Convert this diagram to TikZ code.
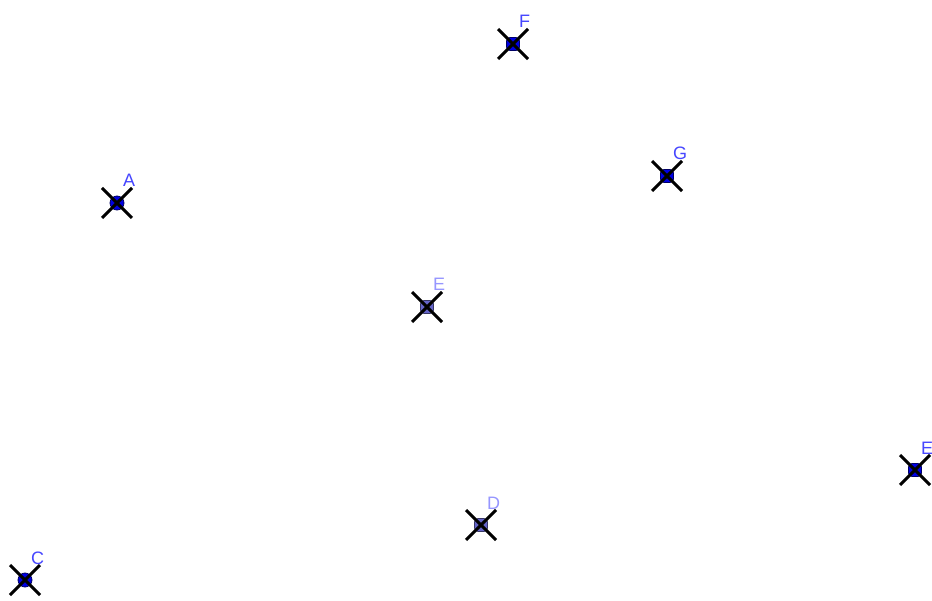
\documentclass[tikz,border=0pt]{standalone}
\usepackage{fontspec}
\setmainfont{Liberation Sans}
\definecolor{lbl}{RGB}{70,70,255}
\definecolor{lbllight}{RGB}{150,150,255}
\definecolor{dot}{RGB}{0,0,225}
\definecolor{dotedge}{RGB}{0,0,100}
\definecolor{dotlight}{RGB}{100,100,200}
\definecolor{dotlightedge}{RGB}{55,55,100}
\tikzset{
  ptdot/.style={circle,fill=dot,draw=dotedge,line width=0.8pt,minimum size=14pt,inner sep=0pt},
  ptsq/.style={rectangle,rounded corners=3.5pt,fill=dot,draw=dotedge,line width=0.8pt,minimum size=13pt,inner sep=0pt},
  ptlight/.style={fill=dotlight,draw=dotlightedge},
  xmark/.style={line width=3pt,black},
  lab/.style={anchor=base west,inner sep=0pt,text=lbl,font=\fontsize{18}{18}\selectfont},
  lablight/.style={text=lbllight}
}
\newcommand{\mypt}[6]{%
  \node[#5] (#1) at (#2pt,-#3pt) {};
  \draw[xmark] ([shift={(-15pt,15pt)}]#1.center) -- ([shift={(15pt,-15pt)}]#1.center);
  \draw[xmark] ([shift={(-15pt,-15pt)}]#1.center) -- ([shift={(15pt,15pt)}]#1.center);
  \node[lab,#6] (#1lab) at ([shift={(6pt,16pt)}]#1.center) {#4};
}
\begin{document}
\begin{tikzpicture}
\useasboundingbox (0,0) rectangle (932pt,-601pt);
\fill[white] (0,0) rectangle (932pt,-601pt);
\mypt{F}{513}{44}{F}{ptsq}{}
\mypt{G}{667}{176}{G}{ptsq}{}
\mypt{A}{117}{203}{A}{ptdot}{}
\mypt{Emid}{427}{307}{E}{ptsq,ptlight}{lablight}
\mypt{E}{915}{470}{E}{ptsq}{}
\mypt{D}{481}{525}{D}{ptsq,ptlight}{lablight}
\mypt{C}{25}{580}{C}{ptdot}{}
\end{tikzpicture}
\end{document}
